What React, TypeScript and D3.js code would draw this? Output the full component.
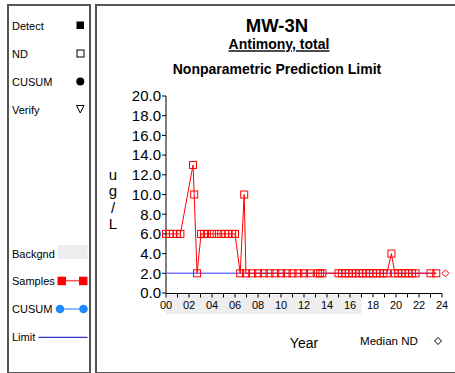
import React from "react";
import * as d3 from "d3";

const sampleYears = [
  0.0, 0.3, 0.6, 0.95, 1.25,
  2.35, 2.45, 2.7,
  3.05, 3.3, 3.55, 4.0, 4.4, 4.8, 5.15, 5.45, 5.75, 6.0,
  6.45, 6.8, 6.95,
  7.5, 8.0, 8.5, 9.0, 9.5, 10.0, 10.5, 11.0, 11.5, 12.0, 12.5,
  13.2, 13.4, 13.6,
  15.0, 15.3, 15.6, 15.9, 16.2, 16.5, 16.8, 17.1, 17.4, 17.7, 18.0, 18.3, 18.6, 18.9, 19.2,
  19.6, 19.9, 20.2, 20.5, 20.8, 21.1, 21.4, 21.7,
  23.0, 23.5,
];
const sampleValues = [
  6, 6, 6, 6, 6,
  13, 10, 2,
  6, 6, 6, 6, 6, 6, 6, 6, 6, 6,
  2, 10, 2,
  2, 2, 2, 2, 2, 2, 2, 2, 2, 2, 2,
  2, 2, 2,
  2, 2, 2, 2, 2, 2, 2, 2, 2, 2, 2, 2, 2, 2, 2,
  4, 2, 2, 2, 2, 2, 2, 2,
  2, 2,
];
const limitValue = 2.0;
const limitRange = [0, 23.5];
const backgroundRange = [0, 17];
const medianND = { year: 24.3, value: 2.0 };
const yTicks = [0, 2, 4, 6, 8, 10, 12, 14, 16, 18, 20];
const xTicks = d3.range(0, 25, 1);
const xLabels = d3.range(0, 25, 2);
const titleLines = ["MW-3N", "Antimony, total", "Nonparametric Prediction Limit"];
const yLabelChars = ["u", "g", "/", "L"];
const topLegend = ["Detect", "ND", "CUSUM", "Verify"];
const bottomLegend = ["Backgnd", "Samples", "CUSUM", "Limit"];

const FONT = "Arial, 'Liberation Sans', Helvetica, sans-serif";

export default function App() {
  const x = d3.scaleLinear().domain([0, 24]).range([166, 442]);
  const y = d3.scaleLinear().domain([0, 20]).range([293, 96]);
  const line = d3
    .line<number>()
    .x((_, i) => x(sampleYears[i]))
    .y((d) => y(d));
  const legY = [30, 58, 86, 114];
  const legB = [258, 285, 313, 341];
  const s = 7;
  return (
    <svg
      width={455}
      height={373}
      style={{ position: "absolute", left: 0, top: 0, background: "#fff" }}
      fontFamily={FONT}
    >
      {/* panels */}
      <rect x={8} y={5} width={82} height={368} fill="none" stroke="#555" strokeWidth={2} />
      <rect x={96} y={5} width={365} height={368} fill="none" stroke="#555" strokeWidth={2} />

      {/* left legend top */}
      {topLegend.map((t, i) => (
        <text key={t + i} x={12} y={legY[i]} fontSize={11} fill="#000">
          {t}
        </text>
      ))}
      <rect x={76.5} y={legY[0] - 8.5} width={7.5} height={7.5} fill="#000" />
      <rect x={77} y={legY[1] - 8} width={7} height={7} fill="none" stroke="#000" strokeWidth={1} />
      <circle cx={80.3} cy={legY[2] - 4.5} r={4} fill="#000" />
      <path
        d={`M${76.5},${legY[3] - 8.5} L${84},${legY[3] - 8.5} L${80.25},${legY[3] - 1} Z`}
        fill="none"
        stroke="#000"
        strokeWidth={1}
      />

      {/* left legend bottom */}
      {bottomLegend.map((t, i) => (
        <text key={t + i} x={12} y={legB[i]} fontSize={11} fill="#000">
          {t}
        </text>
      ))}
      <rect x={57.5} y={245} width={30} height={14} fill="#eeeeee" />
      <line x1={62} x2={83} y1={280.7} y2={280.7} stroke="#ff5555" strokeWidth={1.5} />
      <rect x={57.5} y={276.7} width={8.5} height={8.5} fill="#ff0000" />
      <rect x={79} y={276.7} width={8.5} height={8.5} fill="#ff0000" />
      <line x1={60} x2={83.5} y1={309} y2={309} stroke="#66aaff" strokeWidth={1.5} />
      <circle cx={60} cy={309} r={4.3} fill="#1e88ff" />
      <circle cx={83.5} cy={309} r={4.3} fill="#1e88ff" />
      <line x1={38.5} x2={87.5} y1={337.3} y2={337.3} stroke="#0000cc" strokeWidth={1} />

      {/* titles */}
      <text x={277} y={31.5} fontSize={18.5} fontWeight="bold" textAnchor="middle">
        {titleLines[0]}
      </text>
      <text x={279} y={49.3} fontSize={14} fontWeight="bold" textAnchor="middle" textDecoration="underline">
        {titleLines[1]}
      </text>
      <text x={277} y={74} fontSize={14} fontWeight="bold" textAnchor="middle">
        {titleLines[2]}
      </text>

      {/* background band */}
      <rect
        x={x(backgroundRange[0])}
        y={295}
        width={x(backgroundRange[1]) - x(backgroundRange[0])}
        height={19}
        fill="#eeeeee"
      />

      {/* y axis */}
      <line x1={166} x2={166} y1={y(20)} y2={y(0)} stroke="#000" strokeWidth={1} />
      {yTicks.map((t) => (
        <g key={t}>
          <line x1={162} x2={166} y1={y(t)} y2={y(t)} stroke="#000" strokeWidth={1} />
          <text x={161} y={y(t) + 5.3} fontSize={15} textAnchor="end">
            {t.toFixed(1)}
          </text>
        </g>
      ))}
      {yLabelChars.map((c, i) => (
        <text key={i} x={113} y={180 + i * 16.3} fontSize={15} textAnchor="middle">
          {c}
        </text>
      ))}

      {/* x axis */}
      <line x1={x(0)} x2={x(24)} y1={293.5} y2={293.5} stroke="#000" strokeWidth={1} />
      {xTicks.map((t) => (
        <line key={t} x1={x(t)} x2={x(t)} y1={293.5} y2={297.5} stroke="#000" strokeWidth={1} />
      ))}
      {xLabels.map((t) => (
        <text key={t} x={x(t)} y={309} fontSize={11} textAnchor="middle">
          {d3.format("02d")(t)}
        </text>
      ))}
      <text x={304} y={348} fontSize={14} textAnchor="middle">
        Year
      </text>
      <text x={360} y={345} fontSize={11.6}>
        Median ND
      </text>
      <path d="M438,337.5 L441.5,341 L438,344.5 L434.5,341 Z" fill="none" stroke="#000" strokeWidth={1} />

      {/* limit */}
      <line
        x1={x(limitRange[0])}
        x2={x(limitRange[1])}
        y1={y(limitValue)}
        y2={y(limitValue)}
        stroke="#7777ff"
        strokeWidth={1.5}
      />

      {/* samples */}
      <path d={line(sampleValues) || ""} fill="none" stroke="#ff0000" strokeWidth={1} />
      {sampleValues.map((v, i) => (
        <rect
          key={i}
          x={x(sampleYears[i]) - s / 2}
          y={y(v) - s / 2}
          width={s}
          height={s}
          fill="none"
          stroke="#ff0000"
          strokeWidth={1}
        />
      ))}
      <path
        d={`M${x(medianND.year)},${y(medianND.value) - 3.5} l3.5,3.5 l-3.5,3.5 l-3.5,-3.5 Z`}
        fill="none"
        stroke="#ff0000"
        strokeWidth={1}
      />
    </svg>
  );
}
